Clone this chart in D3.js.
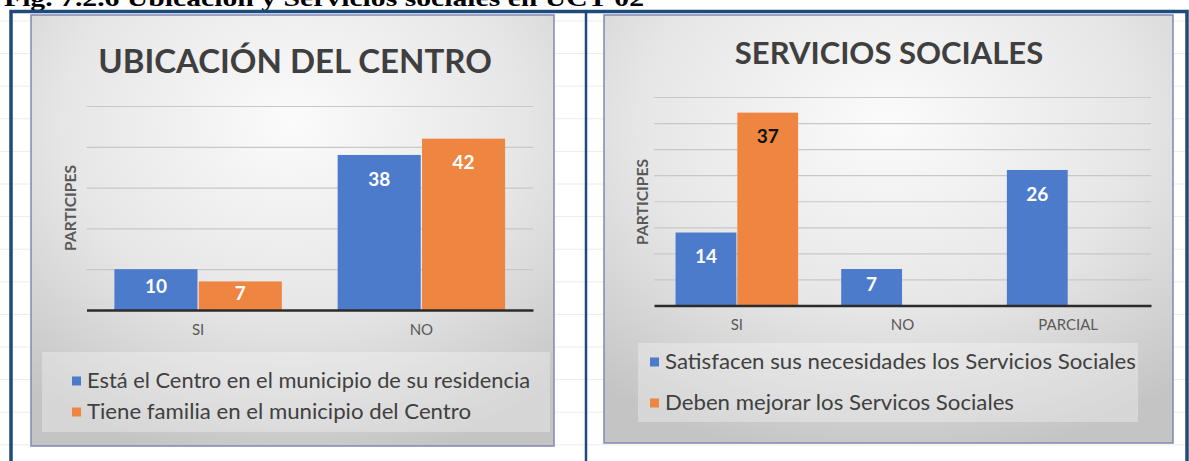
<!DOCTYPE html>
<html>
<head>
<meta charset="utf-8">
<style>
  body { margin: 0; background: #ffffff; font-family: Lato, "Open Sans", sans-serif; }
  svg { display: block; }
</style>
</head>
<body>
<svg id="fig" width="1189" height="461"></svg>
<script src="https://d3js.org/d3.v7.min.js"></script>
<script>

// data
const figCaption = "Fig. 7.2.6 Ubicación y Servicios sociales en UCT 02"

const ubicTitle = "UBICACIÓN DEL CENTRO"
const ubicCategories = ["SI", "NO"]
const ubicSeries = ["Está el Centro en el municipio de su residencia", "Tiene familia en el municipio del Centro"]
const ubicResidencia = [10, 38]
const ubicFamilia = [7, 42]
const ubicTicks = [0, 10, 20, 30, 40, 50]

const servTitle = "SERVICIOS SOCIALES"
const servCategories = ["SI", "NO", "PARCIAL"]
const servSeries = ["Satisfacen sus necesidades los Servicios Sociales", "Deben mejorar los Servicos Sociales"]
const servSatisfacen = [14, 7, 26]
const servMejorar = [37, null, null]
const servTicks = [0, 5, 10, 15, 20, 25, 30, 35, 40]

const yTitle = "PARTICIPES"
const blue = "#4d7bcb"
const orange = "#ee8540"

let svg = d3.select("#fig")

// gradient for chart area
let defs = svg.append("defs")
let grad = defs.append("radialGradient")
    .attr("id", "bg")
    .attr("cx", "50%").attr("cy", "25%").attr("r", "80%")
grad.append("stop").attr("offset", "0%").attr("stop-color", "#fbfbfb")
grad.append("stop").attr("offset", "55%").attr("stop-color", "#e6e6e6")
grad.append("stop").attr("offset", "100%").attr("stop-color", "#c4c4c4")

// faint spreadsheet grid behind
let sheet = svg.append("g")
d3.range(21, 461, 32.6).forEach(y => {
    sheet.append("line")
        .attr("x1", 0).attr("x2", 1189)
        .attr("y1", y).attr("y2", y)
        .attr("stroke", "#ececec").attr("stroke-width", 1)
})

// caption cut at top of the page
svg.append("text")
    .attr("x", 4).attr("y", 6)
    .attr("font-family", "'Liberation Serif', serif")
    .attr("font-weight", "bold")
    .attr("font-size", 23)
    .attr("fill", "#000")
    .attr("textLength", 640)
    .attr("lengthAdjust", "spacingAndGlyphs")
    .text(figCaption)

function drawChart(cfg) {
    let g = svg.append("g")

    g.append("rect")
        .attr("x", cfg.box.x).attr("y", cfg.box.y)
        .attr("width", cfg.box.w).attr("height", cfg.box.h)
        .attr("fill", "url(#bg)")
        .attr("stroke", "#8088b4").attr("stroke-width", 1.5)

    g.append("text")
        .attr("x", cfg.titleX).attr("y", cfg.titleY)
        .attr("text-anchor", "middle")
        .attr("font-size", cfg.titleSize)
        .attr("font-weight", "bold")
        .attr("fill", "#3f3f3f")
        .text(cfg.title)

    let y = d3.scaleLinear()
        .domain([0, cfg.ticks[cfg.ticks.length - 1]])
        .range([cfg.y0, cfg.yTop])

    let x0 = d3.scaleBand()
        .domain(cfg.categories)
        .range([cfg.x1, cfg.x2])
        .paddingInner(cfg.pad)
        .paddingOuter(cfg.pad / 2)

    let x1 = d3.scaleBand()
        .domain([0, 1])
        .range([0, x0.bandwidth()])
        .paddingInner(0.015)

    // gridlines
    let grid = d3.axisLeft(y)
        .tickValues(cfg.ticks.slice(1))
        .tickSize(-(cfg.x2 - cfg.x1))
        .tickFormat("")
    g.append("g")
        .attr("transform", `translate(${cfg.x1},0)`)
        .call(grid)
        .call(a => a.select(".domain").remove())
        .call(a => a.selectAll(".tick line").attr("stroke", "#c8c8c8").attr("stroke-width", 1.2))

    // bars
    let rows = cfg.categories.map((c, i) => ({ cat: c, vals: [cfg.s1[i], cfg.s2[i]] }))
    let colors = [blue, orange]
    let groups = g.selectAll(".grp")
        .data(rows)
        .enter().append("g")
        .attr("transform", d => `translate(${x0(d.cat)},0)`)

    let bars = groups.selectAll("rect")
        .data(d => d.vals.map((v, k) => ({ v: v, k: k })).filter(e => e.v != null))
        .enter()

    bars.append("rect")
        .attr("x", d => x1(d.k))
        .attr("width", x1.bandwidth())
        .attr("y", d => y(d.v))
        .attr("height", d => y(0) - y(d.v))
        .attr("fill", d => colors[d.k])

    bars.append("text")
        .attr("x", d => x1(d.k) + x1.bandwidth() / 2)
        .attr("y", d => Math.min(y(d.v) + 24, (y(d.v) + y(0)) / 2 - 3))
        .attr("dy", "0.36em")
        .attr("text-anchor", "middle")
        .attr("font-size", 19)
        .attr("font-weight", "bold")
        .attr("fill", d => (cfg.darkLabel && d.k === 1) ? "#111" : "#fff")
        .text(d => d.v)

    // category axis
    let xAxis = d3.axisBottom(x0).tickSize(0).tickPadding(14)
    g.append("g")
        .attr("transform", `translate(0,${cfg.y0})`)
        .call(xAxis)
        .call(a => a.select(".domain").attr("stroke", "#2b2b2b").attr("stroke-width", 2.6))
        .call(a => a.selectAll("text")
            .attr("font-family", "Lato, sans-serif")
            .attr("font-size", 15)
            .attr("fill", "#595959"))

    // y title
    g.append("text")
        .attr("transform", `translate(${cfg.yTitleX},${cfg.yTitleY}) rotate(-90)`)
        .attr("text-anchor", "middle")
        .attr("dy", "0.36em")
        .attr("font-size", 15)
        .attr("font-weight", "bold")
        .attr("fill", "#595959")
        .attr("textLength", 86)
        .attr("lengthAdjust", "spacingAndGlyphs")
        .text(yTitle)

    // legend
    let lg = cfg.legend
    g.append("rect")
        .attr("x", lg.x).attr("y", lg.y)
        .attr("width", lg.w).attr("height", lg.h)
        .attr("fill", "#ffffff").attr("opacity", 0.3)

    let items = g.selectAll(".leg")
        .data(cfg.series)
        .enter().append("g")
        .attr("transform", (d, i) => `translate(${lg.sx},${lg.ys[i]})`)
    items.append("rect")
        .attr("x", 0).attr("y", -4.5)
        .attr("width", 9).attr("height", 9)
        .attr("fill", (d, i) => colors[i])
    items.append("text")
        .attr("x", 15).attr("dy", "0.36em")
        .attr("font-size", 20.5)
        .attr("fill", "#404040")
        .attr("textLength", (d, i) => lg.lens[i])
        .attr("lengthAdjust", "spacingAndGlyphs")
        .text(d => d)
}

drawChart({
    box: { x: 31, y: 15, w: 523, h: 431 },
    title: ubicTitle, titleX: 295, titleY: 73, titleSize: 33,
    categories: ubicCategories, series: ubicSeries,
    s1: ubicResidencia, s2: ubicFamilia, ticks: ubicTicks,
    x1: 86.5, x2: 533, y0: 310, yTop: 106, pad: 0.25,
    yTitleX: 71, yTitleY: 208,
    legend: { x: 42, y: 352, w: 508, h: 80, sx: 72, ys: [381, 412], lens: [443, 384] },
    darkLabel: false
})

drawChart({
    box: { x: 604, y: 15, w: 569, h: 428 },
    title: servTitle, titleX: 889, titleY: 64, titleSize: 31,
    categories: servCategories, series: servSeries,
    s1: servSatisfacen, s2: servMejorar, ticks: servTicks,
    x1: 654, x2: 1151, y0: 305.5, yTop: 97, pad: 0.26,
    yTitleX: 643, yTitleY: 202,
    legend: { x: 638, y: 343, w: 500, h: 79, sx: 650, ys: [362, 403], lens: [471, 349] },
    darkLabel: true
})

// blue frame
let frame = svg.append("g").attr("stroke", "#1f4a7c").attr("fill", "none")
frame.append("path")
    .attr("d", "M11,461 V11.5 H1187 V461")
    .attr("stroke-width", 3.5)
frame.append("line")
    .attr("x1", 586).attr("x2", 586).attr("y1", 11).attr("y2", 461)
    .attr("stroke-width", 2.5)

</script>
</body>
</html>
